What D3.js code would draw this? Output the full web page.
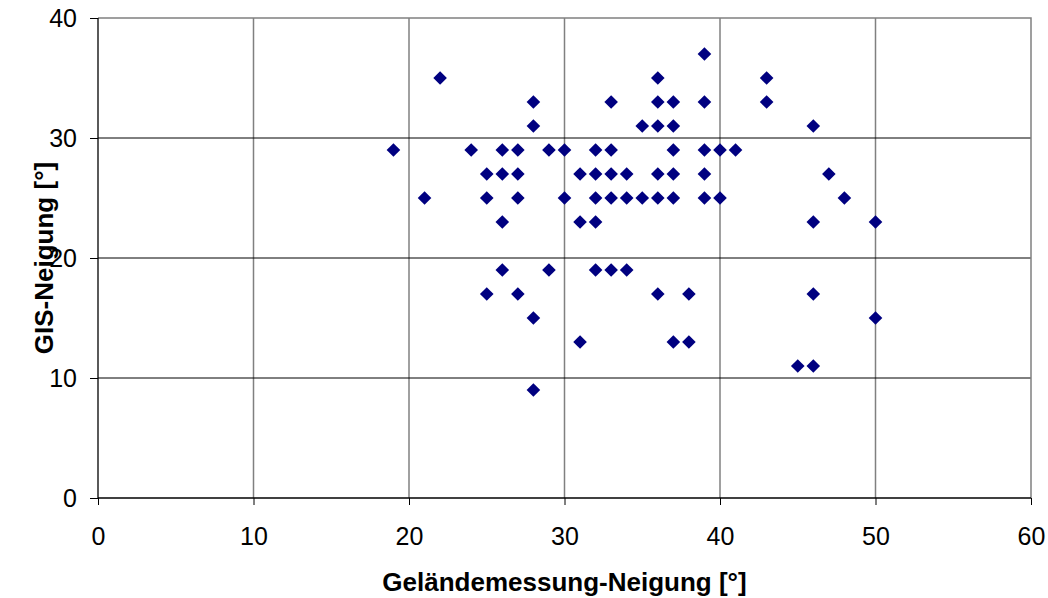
<!DOCTYPE html>
<html>
<head>
<meta charset="utf-8">
<script src="https://cdn.jsdelivr.net/npm/d3@7/dist/d3.min.js"></script>
<style>
  html, body { margin: 0; padding: 0; background: #fff; }
  svg { display: block; }
  text { font-family: "Liberation Sans", Arial, sans-serif; fill: #000; }
</style>
</head>
<body>
<svg id="chart" width="1048" height="598"></svg>
<script>
// Slope measured in the field (x) vs. slope derived from GIS (y), in degrees
const fieldSlope = [
  39,
  22, 36, 43,
  28, 33, 36, 37, 39, 43,
  28, 35, 36, 37, 46,
  19, 24, 26, 27, 29, 30, 32, 33, 37, 39, 40, 41,
  25, 26, 27, 31, 32, 33, 34, 36, 37, 39, 47,
  21, 25, 27, 30, 32, 33, 34, 35, 36, 37, 39, 40, 48,
  26, 31, 32, 46, 50,
  26, 29, 32, 33, 34,
  25, 27, 36, 38, 46,
  28, 50,
  31, 37, 38,
  45, 46,
  28
];
const gisSlope = [
  37,
  35, 35, 35,
  33, 33, 33, 33, 33, 33,
  31, 31, 31, 31, 31,
  29, 29, 29, 29, 29, 29, 29, 29, 29, 29, 29, 29,
  27, 27, 27, 27, 27, 27, 27, 27, 27, 27, 27,
  25, 25, 25, 25, 25, 25, 25, 25, 25, 25, 25, 25, 25,
  23, 23, 23, 23, 23,
  19, 19, 19, 19, 19,
  17, 17, 17, 17, 17,
  15, 15,
  13, 13, 13,
  11, 11,
  9
];
const xTicks = [0, 10, 20, 30, 40, 50, 60];
const yTicks = [0, 10, 20, 30, 40];
const xTitle = "Geländemessung-Neigung [°]";
const yTitle = "GIS-Neigung [°]";

const svg = d3.select("#chart");
const plot = { left: 98, right: 1031, top: 18, bottom: 498 };

const x = d3.scaleLinear().domain([0, 60]).range([plot.left, plot.right]);
const y = d3.scaleLinear().domain([0, 40]).range([plot.bottom, plot.top]);

// vertical gridlines (grey)
svg.append("g").selectAll("line").data(xTicks.filter(d => d > 0 && d < 60)).join("line")
  .attr("x1", d => x(d)).attr("x2", d => x(d))
  .attr("y1", plot.top).attr("y2", plot.bottom)
  .attr("stroke", "#808080").attr("stroke-width", 1.5);

// horizontal gridlines (black)
svg.append("g").selectAll("line").data(yTicks.filter(d => d > 0 && d < 40)).join("line")
  .attr("x1", plot.left).attr("x2", plot.right)
  .attr("y1", d => y(d)).attr("y2", d => y(d))
  .attr("stroke", "#000").attr("stroke-width", 1);

// plot frame: top and right edges
svg.append("path")
  .attr("d", `M${plot.left},${y(40)}H${x(60)}V${plot.bottom}`)
  .attr("fill", "none").attr("stroke", "#808080").attr("stroke-width", 1.5);

// axes
const xAxis = d3.axisBottom(x).tickValues(xTicks).tickSize(7).tickPadding(22).tickFormat(d3.format("d"));
const yAxis = d3.axisLeft(y).tickValues(yTicks).tickSize(8).tickPadding(13).tickFormat(d3.format("d"));

const gx = svg.append("g").attr("transform", `translate(0,${plot.bottom})`).call(xAxis);
const gy = svg.append("g").attr("transform", `translate(${plot.left},0)`).call(yAxis);
[gx, gy].forEach(g => {
  g.select(".domain").attr("stroke", "#000").attr("stroke-width", 1.3);
  g.selectAll(".tick line").attr("stroke", "#000");
  g.selectAll(".tick text").attr("font-size", 25).attr("fill", "#000")
    .attr("font-family", "'Liberation Sans', Arial, sans-serif");
});
gx.select(".domain").attr("d", `M${plot.left},0H${plot.right}`);
gy.select(".domain").attr("d", `M0,${plot.top}V${plot.bottom}`);

// axis titles
svg.append("text")
  .attr("x", (plot.left + plot.right) / 2).attr("y", 591)
  .attr("text-anchor", "middle")
  .attr("font-size", 26).attr("font-weight", "bold")
  .text(xTitle);

svg.append("text")
  .attr("transform", `translate(53,${(plot.top + plot.bottom) / 2}) rotate(-90)`)
  .attr("text-anchor", "middle")
  .attr("font-size", 26).attr("font-weight", "bold")
  .text(yTitle);

// diamond markers
const r = 6.8;
const points = fieldSlope.map((v, i) => ({ fx: v, gy: gisSlope[i] }));
svg.append("g").selectAll("path").data(points).join("path")
  .attr("d", d => {
    const cx = x(d.fx), cy = y(d.gy);
    return `M${cx},${cy - r}L${cx + r},${cy}L${cx},${cy + r}L${cx - r},${cy}Z`;
  })
  .attr("fill", "#000080");
</script>
</body>
</html>
